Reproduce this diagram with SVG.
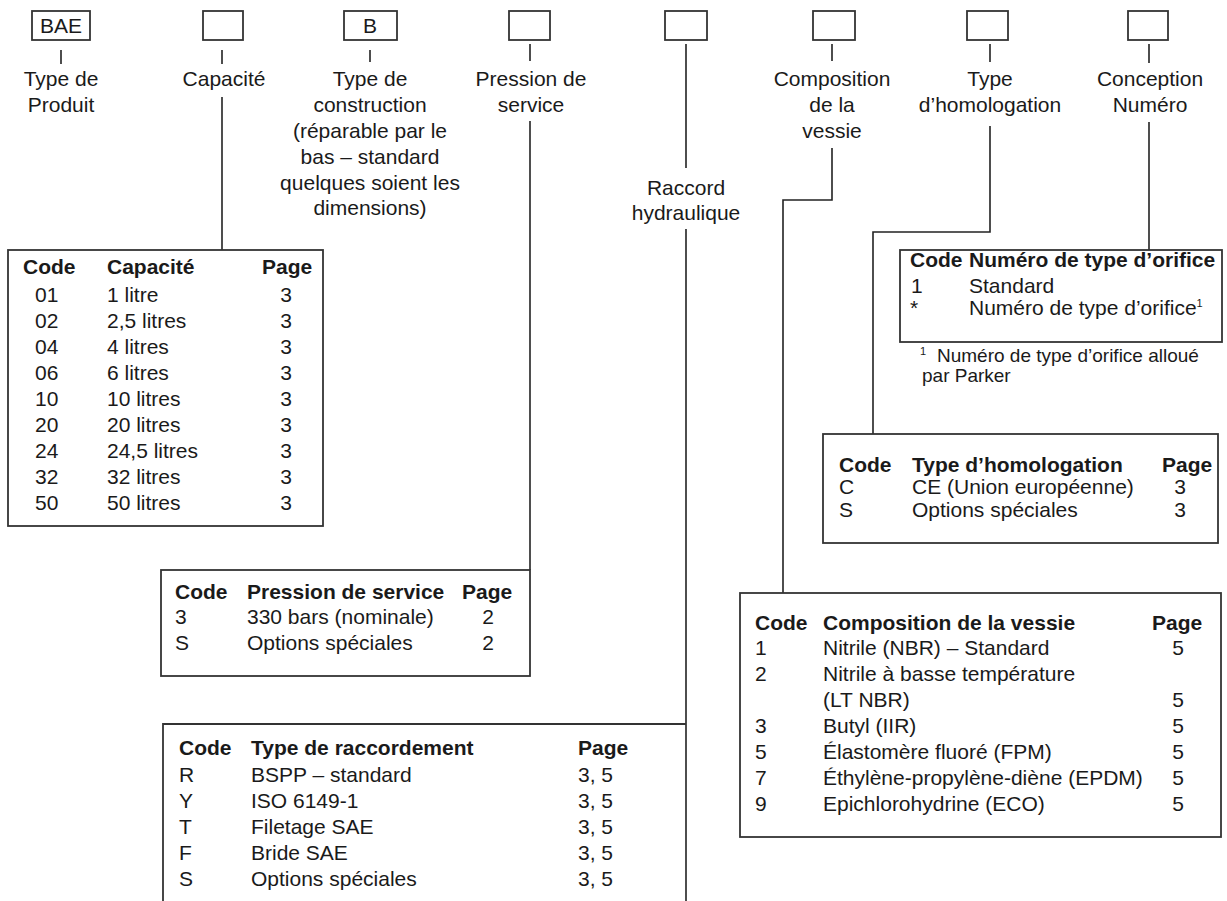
<svg xmlns="http://www.w3.org/2000/svg" width="1227" height="901" viewBox="0 0 1227 901">
<style>
text{font-family:"Liberation Sans",Arial,sans-serif;font-size:21px;fill:#1a1a1a}
.m{text-anchor:middle}
.b{font-weight:bold}
.fn{font-size:19px}
.sup{font-size:11px}
.box{fill:#fff;stroke:#333;stroke-width:1.8}
.tbl{fill:none;stroke:#333;stroke-width:1.8}
.c{fill:none;stroke:#222;stroke-width:1.6}
</style>
<rect width="1227" height="901" fill="#fff"/>

<g id="connectors">
<path class="c" d="M61,50V64M222,50V64M370,50V62M530,44V61M832,44V61M990,44V62M1149,44V63"/>
<path class="c" d="M686,44V168M686,229V901"/>
<path class="c" d="M222,97V250"/>
<path class="c" d="M530,121V570"/>
<path class="c" d="M832,148V200H783V593"/>
<path class="c" d="M990,126V232H873V434"/>
<path class="c" d="M1149,122V250"/>
</g>

<g id="produit">
<rect class="box" x="32" y="11" width="58" height="29"/>
<text class="m" x="61" y="33">BAE</text>
<text class="m" x="61" y="86">Type de</text>
<text class="m" x="61" y="112">Produit</text>
</g>

<g id="capacite">
<rect class="box" x="203" y="11" width="40" height="29"/>
<text class="m" x="224" y="86">Capacité</text>
</g>

<g id="construction">
<rect class="box" x="344" y="11" width="53" height="29"/>
<text class="m" x="370" y="33">B</text>
<text class="m" x="370" y="86">Type de</text>
<text class="m" x="370" y="112">construction</text>
<text class="m" x="370" y="138">(réparable par le</text>
<text class="m" x="370" y="164">bas – standard</text>
<text class="m" x="370" y="190">quelques soient les</text>
<text class="m" x="370" y="215">dimensions)</text>
</g>

<g id="pression">
<rect class="box" x="509" y="11" width="41" height="29"/>
<text class="m" x="531" y="86">Pression de</text>
<text class="m" x="531" y="112">service</text>
</g>

<g id="raccord">
<rect class="box" x="665" y="11" width="42" height="29"/>
<text class="m" x="686" y="195">Raccord</text>
<text class="m" x="686" y="220">hydraulique</text>
</g>

<g id="composition">
<rect class="box" x="813" y="11" width="42" height="29"/>
<text class="m" x="832" y="86">Composition</text>
<text class="m" x="832" y="112">de la</text>
<text class="m" x="832" y="138">vessie</text>
</g>

<g id="homologation">
<rect class="box" x="967" y="11" width="41" height="29"/>
<text class="m" x="990" y="86">Type</text>
<text class="m" x="990" y="112">d’homologation</text>
</g>

<g id="conception">
<rect class="box" x="1128" y="11" width="40" height="29"/>
<text class="m" x="1150" y="86">Conception</text>
<text class="m" x="1150" y="112">Numéro</text>
</g>

<g id="table-capacite">
<rect class="tbl" x="8" y="250" width="315" height="276"/>
<text class="b" x="23" y="274">Code</text>
<text class="b" x="107" y="274">Capacité</text>
<text class="b" x="262" y="274">Page</text>
<text x="35" y="302">01</text><text x="107" y="302">1 litre</text><text class="m" x="286" y="302">3</text>
<text x="35" y="328">02</text><text x="107" y="328">2,5 litres</text><text class="m" x="286" y="328">3</text>
<text x="35" y="354">04</text><text x="107" y="354">4 litres</text><text class="m" x="286" y="354">3</text>
<text x="35" y="380">06</text><text x="107" y="380">6 litres</text><text class="m" x="286" y="380">3</text>
<text x="35" y="406">10</text><text x="107" y="406">10 litres</text><text class="m" x="286" y="406">3</text>
<text x="35" y="432">20</text><text x="107" y="432">20 litres</text><text class="m" x="286" y="432">3</text>
<text x="35" y="458">24</text><text x="107" y="458">24,5 litres</text><text class="m" x="286" y="458">3</text>
<text x="35" y="484">32</text><text x="107" y="484">32 litres</text><text class="m" x="286" y="484">3</text>
<text x="35" y="510">50</text><text x="107" y="510">50 litres</text><text class="m" x="286" y="510">3</text>
</g>

<g id="table-pression">
<rect class="tbl" x="161" y="570" width="369" height="106"/>
<text class="b" x="175" y="599">Code</text>
<text class="b" x="247" y="599">Pression de service</text>
<text class="b" x="462" y="599">Page</text>
<text x="175" y="624">3</text><text x="247" y="624">330 bars (nominale)</text><text class="m" x="488" y="624">2</text>
<text x="175" y="650">S</text><text x="247" y="650">Options spéciales</text><text class="m" x="488" y="650">2</text>
</g>

<g id="table-raccord">
<path class="tbl" d="M163,901V724H686"/>
<text class="b" x="179" y="755">Code</text>
<text class="b" x="251" y="755">Type de raccordement</text>
<text class="b" x="578" y="755">Page</text>
<text x="179" y="782">R</text><text x="251" y="782">BSPP – standard</text><text x="578" y="782">3, 5</text>
<text x="179" y="808">Y</text><text x="251" y="808">ISO 6149-1</text><text x="578" y="808">3, 5</text>
<text x="179" y="834">T</text><text x="251" y="834">Filetage SAE</text><text x="578" y="834">3, 5</text>
<text x="179" y="860">F</text><text x="251" y="860">Bride SAE</text><text x="578" y="860">3, 5</text>
<text x="179" y="886">S</text><text x="251" y="886">Options spéciales</text><text x="578" y="886">3, 5</text>
</g>

<g id="table-numero">
<rect class="tbl" x="900" y="250" width="322" height="92"/>
<text class="b" x="910" y="267">Code</text>
<text class="b" x="969" y="267">Numéro de type d’orifice</text>
<text x="911" y="293">1</text><text x="969" y="293">Standard</text>
<text x="910" y="315">*</text><text x="969" y="315">Numéro de type d’orifice<tspan class="sup" dy="-8">1</tspan></text>
<text class="sup" x="920" y="355">1</text>
<text class="fn" x="937" y="362">Numéro de type d’orifice alloué</text>
<text class="fn" x="922" y="382">par Parker</text>
</g>

<g id="table-homologation">
<rect class="tbl" x="823" y="434" width="395" height="109"/>
<text class="b" x="839" y="472">Code</text>
<text class="b" x="912" y="472">Type d’homologation</text>
<text class="b" x="1162" y="472">Page</text>
<text x="839" y="494">C</text><text x="912" y="494">CE (Union européenne)</text><text class="m" x="1180" y="494">3</text>
<text x="839" y="517">S</text><text x="912" y="517">Options spéciales</text><text class="m" x="1180" y="517">3</text>
</g>

<g id="table-composition">
<rect class="tbl" x="740" y="593" width="481" height="244"/>
<text class="b" x="755" y="630">Code</text>
<text class="b" x="823" y="630">Composition de la vessie</text>
<text class="b" x="1152" y="630">Page</text>
<text x="755" y="655">1</text><text x="823" y="655">Nitrile (NBR) – Standard</text><text class="m" x="1178" y="655">5</text>
<text x="755" y="681">2</text><text x="823" y="681">Nitrile à basse température</text>
<text x="823" y="707">(LT NBR)</text><text class="m" x="1178" y="707">5</text>
<text x="755" y="733">3</text><text x="823" y="733">Butyl (IIR)</text><text class="m" x="1178" y="733">5</text>
<text x="755" y="759">5</text><text x="823" y="759">Élastomère fluoré (FPM)</text><text class="m" x="1178" y="759">5</text>
<text x="755" y="785">7</text><text x="823" y="785">Éthylène-propylène-diène (EPDM)</text><text class="m" x="1178" y="785">5</text>
<text x="755" y="811">9</text><text x="823" y="811">Epichlorohydrine (ECO)</text><text class="m" x="1178" y="811">5</text>
</g>
</svg>
